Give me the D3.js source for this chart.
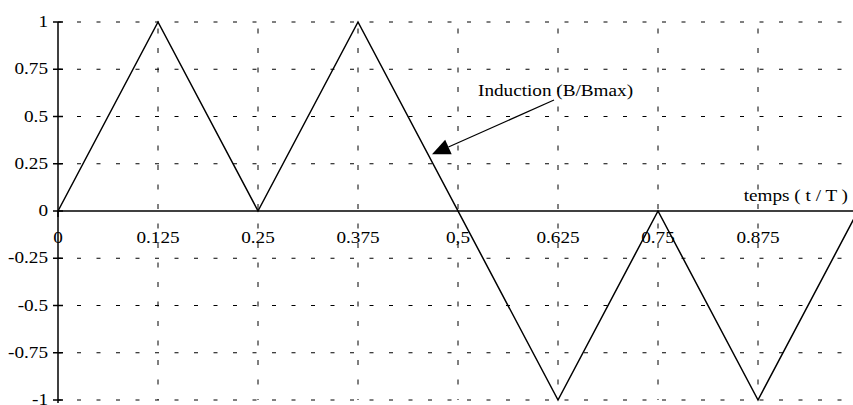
<!DOCTYPE html>
<html>
<head>
<meta charset="utf-8">
<script src="https://cdn.jsdelivr.net/npm/d3@7"></script>
<style>
  html, body { margin: 0; padding: 0; background: #fff; }
  svg { display: block; }
  text { font-family: "Liberation Serif", "Times New Roman", serif; font-size: 16px; fill: #000; }
</style>
</head>
<body>
<svg id="chart" width="853" height="405"></svg>
<script>
// ---- data ----
const timePoints = [0, 0.125, 0.25, 0.375, 0.625, 0.75, 0.875, 1];
const inductionValues = [0, 1, 0, 1, -1, 0, -1, 0];
const xTickValues = [0, 0.125, 0.25, 0.375, 0.5, 0.625, 0.75, 0.875];
const xTickLabels = ["0", "0.125", "0.25", "0.375", "0,5", "0.625", "0.75", "0.875"];
const yTickValues = [1, 0.75, 0.5, 0.25, 0, -0.25, -0.5, -0.75, -1];
const yTickLabels = ["1", "0.75", "0.5", "0.25", "0", "-0.25", "-0.5", "-0.75", "-1"];
const annotationText = ["Induction (B/Bmax)"];
const annotationTextPos = [0.525, 0.608];
const annotationArrowFrom = [0.62, 0.587];
const annotationArrowTo = [0.4675, 0.30];
const xAxisTitle = ["temps ( t / T )"];

// ---- scales ----
const svg = d3.select("#chart");
const x = d3.scaleLinear().domain([0, 1]).range([58, 858]);
const y = d3.scaleLinear().domain([-1, 1]).range([400, 22]);
const SX = 1.2; // horizontal text stretch

// grid: horizontal
svg.append("g").selectAll("line").data(yTickValues.filter(v => v !== 0)).join("line")
  .attr("x1", x(0)).attr("x2", 853)
  .attr("y1", d => y(d)).attr("y2", d => y(d))
  .attr("stroke", "#000").attr("stroke-width", 1)
  .attr("stroke-dasharray", "4,15.5").attr("stroke-dashoffset", -19);

// grid: vertical
svg.append("g").selectAll("line").data(xTickValues.filter(v => v !== 0)).join("line")
  .attr("x1", d => x(d)).attr("x2", d => x(d))
  .attr("y1", y(1)).attr("y2", y(-1))
  .attr("stroke", "#000").attr("stroke-width", 1)
  .attr("stroke-dasharray", "5,14.5").attr("stroke-dashoffset", -6.5);

// axes lines
svg.append("line").attr("x1", x(0)).attr("x2", 853).attr("y1", y(0)).attr("y2", y(0))
  .attr("stroke", "#000").attr("stroke-width", 1.5);
svg.append("line").attr("x1", x(0)).attr("x2", x(0)).attr("y1", y(1)).attr("y2", y(-1) + 3)
  .attr("stroke", "#000").attr("stroke-width", 1.5);

// y ticks
svg.append("g").selectAll("line").data(yTickValues).join("line")
  .attr("x1", x(0) - 5).attr("x2", x(0) + 5)
  .attr("y1", d => y(d)).attr("y2", d => y(d))
  .attr("stroke", "#000").attr("stroke-width", 1.5);
svg.append("line").attr("x1", x(0)).attr("x2", x(0)).attr("y1", y(0)).attr("y2", y(0) + 6)
  .attr("stroke", "#000").attr("stroke-width", 1.5);

// y labels
svg.append("g").selectAll("text").data(yTickValues).join("text")
  .attr("text-anchor", "end")
  .attr("transform", d => `translate(48,${y(d) + 5}) scale(${SX},1)`)
  .text((d, i) => yTickLabels[i]);

// x labels
svg.append("g").selectAll("text").data(xTickValues).join("text")
  .attr("text-anchor", "middle")
  .attr("transform", d => `translate(${x(d)},${y(0) + 32}) scale(${SX},1)`)
  .text((d, i) => xTickLabels[i]);

// x axis title
svg.append("text").attr("text-anchor", "end")
  .attr("transform", `translate(848,${y(0) - 10}) scale(${SX},1)`)
  .text(xAxisTitle[0]);

// data line
const line = d3.line().x((d, i) => x(timePoints[i])).y(d => y(d));
svg.append("path").datum(inductionValues)
  .attr("d", line).attr("fill", "none")
  .attr("stroke", "#000").attr("stroke-width", 1.5)
  .attr("stroke-linejoin", "miter");

// annotation
svg.append("text").attr("text-anchor", "start")
  .attr("transform", `translate(${x(annotationTextPos[0])},${y(annotationTextPos[1])}) scale(${SX},1)`)
  .text(annotationText[0]);

const ax0 = x(annotationArrowFrom[0]), ay0 = y(annotationArrowFrom[1]);
const ax1 = x(annotationArrowTo[0]), ay1 = y(annotationArrowTo[1]);
const dx = ax1 - ax0, dy = ay1 - ay0, len = Math.hypot(dx, dy);
const ux = dx / len, uy = dy / len;
const headLen = 18, headHalf = 8;
const bx = ax1 - ux * headLen, by = ay1 - uy * headLen;
svg.append("line").attr("x1", ax0).attr("y1", ay0).attr("x2", bx).attr("y2", by)
  .attr("stroke", "#000").attr("stroke-width", 1.2);
svg.append("polygon")
  .attr("points", [[ax1, ay1], [bx - uy * headHalf, by + ux * headHalf], [bx + uy * headHalf, by - ux * headHalf]].map(p => p.join(",")).join(" "))
  .attr("fill", "#000");
</script>
</body>
</html>
